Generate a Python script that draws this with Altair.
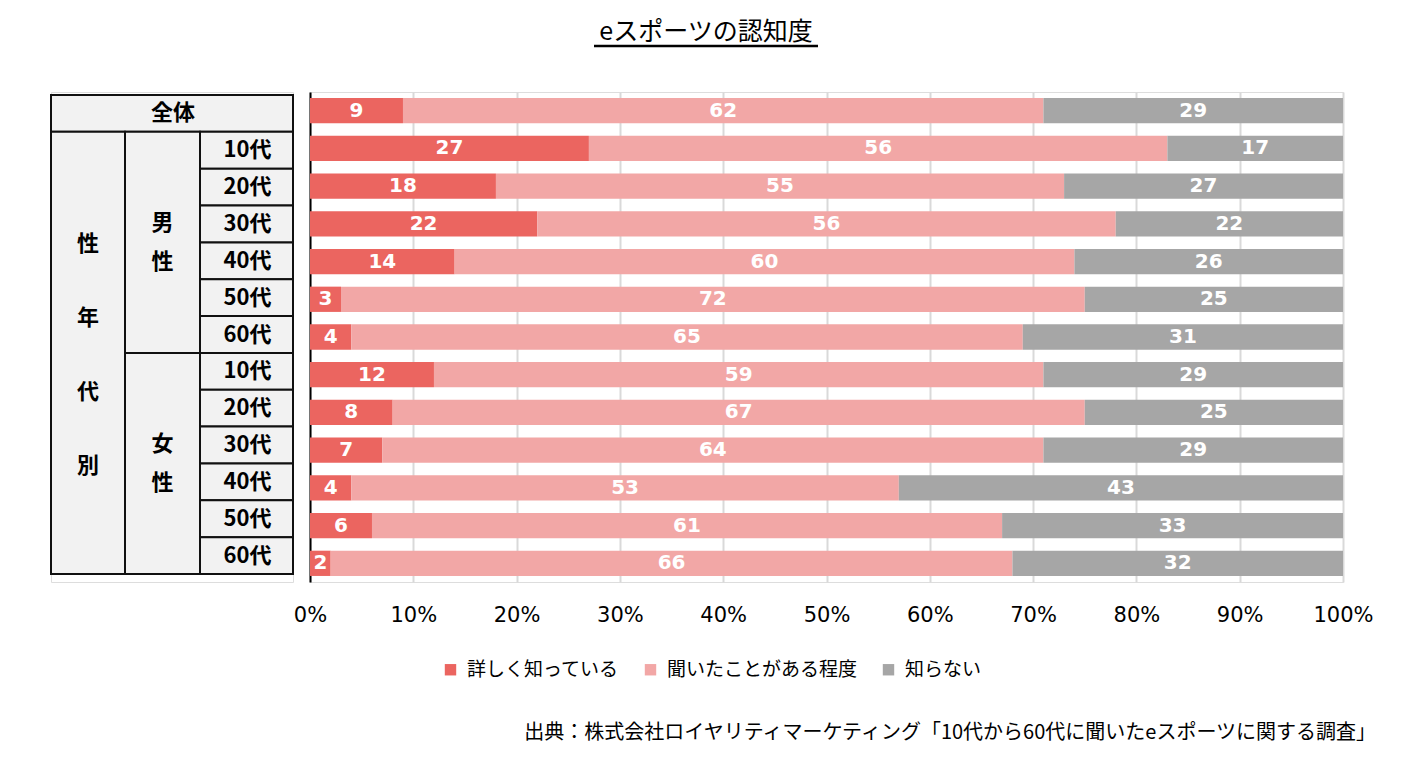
import altair as alt
import pandas as pd

# ---------------- data ----------------
title_text = "eスポーツの認知度"
source_text = "出典：株式会社ロイヤリティマーケティング「10代から60代に聞いたeスポーツに関する調査」"

categories = ["詳しく知っている", "聞いたことがある程度", "知らない"]
colors = ["#EB6560", "#F2A7A6", "#A6A6A6"]

ages = ["10代", "20代", "30代", "40代", "50代", "60代"]
row_keys = ["全体"] + ["男性" + a for a in ages] + ["女性" + a for a in ages]

well_known = [9, 27, 18, 22, 14, 3, 4, 12, 8, 7, 4, 6, 2]
heard = [62, 56, 55, 56, 60, 72, 65, 59, 67, 64, 53, 61, 66]
unknown = [29, 17, 27, 22, 26, 25, 31, 29, 25, 29, 43, 33, 32]

x_ticks = [0, 10, 20, 30, 40, 50, 60, 70, 80, 90, 100]

# table structure: column edges (in table units) and merged cells
col_edges = [0, 74, 149, 242]
group_label = "性\n年\n代\n別"
sex_labels = ["男\n性", "女\n性"]

# ---------------- build tables ----------------
rows = []
for i, key in enumerate(row_keys):
    for j, (cat, vals) in enumerate(zip(categories, [well_known, heard, unknown])):
        rows.append({"row": key, "category": cat, "value": vals[i], "order": j})
bars_df = pd.DataFrame(rows)

cells = [{"label": "全体", "c0": 0, "c1": 3, "r0": 0, "r1": 1, "kind": "single"},
         {"label": group_label, "c0": 0, "c1": 1, "r0": 1, "r1": 13, "kind": "group"},
         {"label": sex_labels[0], "c0": 1, "c1": 2, "r0": 1, "r1": 7, "kind": "sex"},
         {"label": sex_labels[1], "c0": 1, "c1": 2, "r0": 7, "r1": 13, "kind": "sex"}]
for s in range(2):
    for k, a in enumerate(ages):
        r = 1 + s * 6 + k
        cells.append({"label": a, "c0": 2, "c1": 3, "r0": r, "r1": r + 1, "kind": "single"})
cells_df = pd.DataFrame(cells)
cells_df["x0"] = [col_edges[c] for c in cells_df["c0"]]
cells_df["x1"] = [col_edges[c] for c in cells_df["c1"]]
cells_df["xm"] = (cells_df["x0"] + cells_df["x1"]) / 2
cells_df["ym"] = (cells_df["r0"] + cells_df["r1"]) / 2

JP = "Noto Sans CJK JP"
PLOT_W, PLOT_H = 1033, 490

# ---------------- table chart ----------------
tx = alt.Scale(domain=[0, 242], nice=False, zero=False)
ty = alt.Scale(domain=[-0.0814, 13.217], nice=False, zero=False, reverse=True)
tbase = alt.Chart(cells_df)
t_rect = tbase.mark_rect(fill="#F2F2F2", stroke="#111111", strokeWidth=2).encode(
    x=alt.X("x0:Q", scale=tx, axis=None),
    x2="x1:Q",
    y=alt.Y("r0:Q", scale=ty, axis=None),
    y2="r1:Q",
)
t_text1 = tbase.transform_filter("datum.kind == 'single'").mark_text(
    font=JP, fontSize=22, fontWeight="bold", color="black", baseline="middle", dx=1
).encode(x=alt.X("xm:Q", scale=tx, axis=None), y=alt.Y("ym:Q", scale=ty, axis=None), text="label:N")
t_text2 = tbase.transform_filter("datum.kind == 'group'").mark_text(
    font=JP, fontSize=22, fontWeight="bold", color="black", baseline="middle",
    lineBreak="\n", lineHeight=74, dy=-109
).encode(x=alt.X("xm:Q", scale=tx, axis=None), y=alt.Y("ym:Q", scale=ty, axis=None), text="label:N")
t_text3 = tbase.transform_filter("datum.kind == 'sex'").mark_text(
    font=JP, fontSize=22, fontWeight="bold", color="black", baseline="middle",
    lineBreak="\n", lineHeight=39, dy=-19
).encode(x=alt.X("xm:Q", scale=tx, axis=None), y=alt.Y("ym:Q", scale=ty, axis=None), text="label:N")
table = alt.layer(t_rect, t_text1, t_text2, t_text3).properties(width=242, height=PLOT_H)

# ---------------- bars chart ----------------
ysc = alt.Scale(paddingInner=0.33, paddingOuter=0.16)
base = alt.Chart(bars_df)
bars = base.mark_bar().encode(
    y=alt.Y("row:N", sort=row_keys, scale=ysc,
            axis=alt.Axis(title=None, labels=False, ticks=False, grid=False,
                          domain=True, domainColor="black", domainWidth=2)),
    x=alt.X("value:Q", stack="zero", scale=alt.Scale(domain=[0, 100], nice=False),
            axis=alt.Axis(values=x_ticks, labelExpr="datum.value + '%'", title=None,
                          grid=True, gridColor="#D9D9D9", gridWidth=2, domain=False,
                          ticks=False, labelFontSize=21, labelFont="DejaVu Sans",
                          labelColor="black", labelPadding=22, labelFlush=False,
                          labelOverlap=False, labelBound=False)),
    color=alt.Color("category:N", scale=alt.Scale(domain=categories, range=colors),
                    legend=alt.Legend(orient="none", legendX=131, legendY=568,
                                      direction="horizontal", title=None,
                                      symbolType="square", symbolSize=130,
                                      symbolStrokeWidth=0, labelFont=JP,
                                      labelFontSize=19, labelColor="black",
                                      columnPadding=21, labelOffset=7, labelLimit=0)),
    order=alt.Order("order:Q"),
)
labels = base.transform_stack(
    stack="value", groupby=["row"], as_=["x0", "x1"],
    sort=[alt.SortField("order", order="ascending")],
).transform_calculate(mid="(datum.x0 + datum.x1) / 2").mark_text(
    color="white", fontWeight="bold", font="DejaVu Sans", fontSize=20, baseline="middle"
).encode(
    x=alt.X("mid:Q"),
    y=alt.Y("row:N", sort=row_keys, scale=ysc),
    text="value:Q",
)

title_df = pd.DataFrame({"t": [title_text]})
title_mark = alt.Chart(title_df).mark_text(
    font=JP, fontSize=25, color="black", baseline="middle", align="center"
).encode(text="t:N", x=alt.value(396), y=alt.value(-60))
underline = alt.Chart(title_df).mark_rule(color="black", strokeWidth=2.5).encode(
    x=alt.value(284), x2=alt.value(508), y=alt.value(-46)
)
source_df = pd.DataFrame({"t": [source_text]})
source_mark = alt.Chart(source_df).mark_text(
    font=JP, fontSize=20, color="black", baseline="middle", align="right"
).encode(text="t:N", x=alt.value(1066), y=alt.value(641))

bar_chart = alt.layer(bars, labels, title_mark, underline, source_mark).properties(
    width=PLOT_W, height=PLOT_H
)

chart = alt.hconcat(table, bar_chart, spacing=17, bounds="flush").resolve_scale(
    color="independent", y="independent", x="independent"
).properties(
    padding={"left": 41, "top": 11, "right": 5, "bottom": 5}
).configure_view(stroke="transparent", strokeWidth=0).configure_axis(
    domain=False, grid=False, ticks=False
).configure(background="white")

chart.save("out.html", embed_options={"renderer": "svg", "actions": False})
